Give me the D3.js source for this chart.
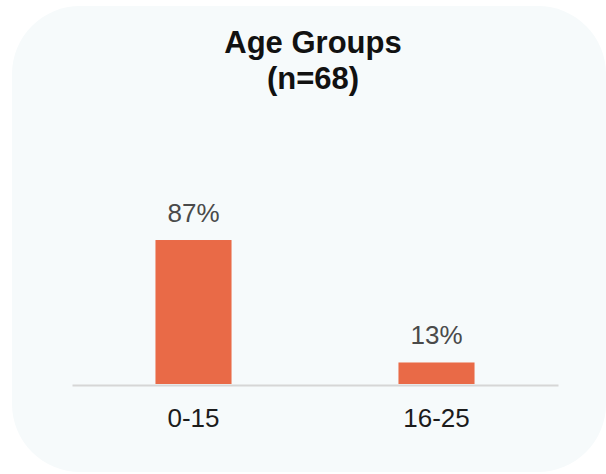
<!DOCTYPE html>
<html>
<head>
<meta charset="utf-8">
<script src="https://cdn.jsdelivr.net/npm/d3@7"></script>
<style>
  html, body { margin: 0; padding: 0; background: #ffffff; }
  svg { display: block; }
</style>
</head>
<body>
<svg id="chart" width="606" height="474"></svg>
<script>
const categories = ["0-15", "16-25"];
const values = [87, 13];
const valueLabels = ["87%", "13%"];
const titleLines = ["Age Groups", "(n=68)"];

const svg = d3.select("#chart");

svg.append("rect")
  .attr("x", 12).attr("y", 6)
  .attr("width", 594).attr("height", 466)
  .attr("rx", 68).attr("ry", 68)
  .attr("fill", "#f6fafb");

const plot = { left: 72, right: 558, bottom: 384 };

const x = d3.scaleBand()
  .domain(categories)
  .range([plot.left, plot.right])
  .padding(0);

const y = d3.scaleLinear()
  .domain([0, 100])
  .range([plot.bottom, plot.bottom - 165.5]);

const barW = x.bandwidth() * 0.313;

svg.append("g").selectAll("rect")
  .data(categories)
  .join("rect")
  .attr("x", (d) => x(d) + x.bandwidth() / 2 - barW / 2)
  .attr("y", (d, i) => y(values[i]))
  .attr("width", barW)
  .attr("height", (d, i) => y(0) - y(values[i]))
  .attr("fill", "#e96a47");

// baseline axis
const axis = svg.append("g")
  .attr("transform", `translate(0,${plot.bottom + 1})`)
  .call(d3.axisBottom(x).tickSize(0).tickPadding(24));
axis.select(".domain").attr("stroke", "#d6d6d6").attr("stroke-width", 2);
axis.selectAll("text")
  .attr("font-family", "Liberation Sans, Arial, sans-serif")
  .attr("font-size", 26)
  .attr("fill", "#1c1c1c")
  .attr("dy", "0.71em");

// value labels
svg.append("g").selectAll("text")
  .data(categories)
  .join("text")
  .attr("x", (d) => x(d) + x.bandwidth() / 2)
  .attr("y", (d, i) => y(values[i]) - 18)
  .attr("text-anchor", "middle")
  .attr("font-family", "Liberation Sans, Arial, sans-serif")
  .attr("font-size", 26)
  .attr("fill", "#4a4a4a")
  .text((d, i) => valueLabels[i]);

// title
svg.append("g").selectAll("text")
  .data(titleLines)
  .join("text")
  .attr("x", 313)
  .attr("y", (d, i) => 53 + i * 36)
  .attr("text-anchor", "middle")
  .attr("font-family", "Liberation Sans, Arial, sans-serif")
  .attr("font-weight", "bold")
  .attr("font-size", 31)
  .attr("fill", "#111111")
  .text((d) => d);
</script>
</body>
</html>
